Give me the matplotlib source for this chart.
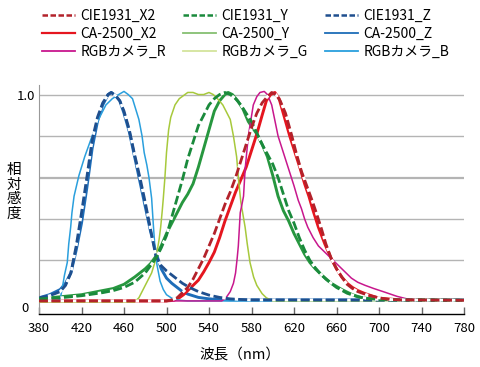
import matplotlib.pyplot as plt
from matplotlib.lines import Line2D

plt.rcParams['font.family'] = ['Noto Sans CJK JP', 'DejaVu Sans']

# CIE1931 colour matching functions (normalised)
cie_x_nm = [380, 500, 505, 510, 515, 520, 525, 530, 535, 540, 545, 550, 555, 560, 565, 570,
            575, 580, 585, 590, 595, 599, 603, 607, 612, 618, 622, 627, 632, 637, 641, 646,
            650, 655, 660, 665, 670, 675, 680, 690, 700, 710, 720, 780]
cie_x_val = [0.005, 0.005, 0.01, 0.02, 0.045, 0.07, 0.11, 0.16, 0.21, 0.27, 0.33, 0.40, 0.47,
             0.53, 0.60, 0.68, 0.76, 0.84, 0.91, 0.96, 0.99, 1.01, 1.0, 0.97, 0.91, 0.80, 0.72,
             0.63, 0.56, 0.49, 0.43, 0.35, 0.28, 0.21, 0.16, 0.12, 0.085, 0.065, 0.05, 0.032,
             0.02, 0.012, 0.01, 0.008]

cie_y_nm = [380, 400, 420, 440, 450, 460, 470, 480, 490, 495, 500, 505, 510, 515, 520, 525,
            530, 535, 540, 545, 550, 555, 560, 565, 570, 575, 580, 590, 600, 605, 610, 615,
            620, 625, 630, 635, 640, 645, 650, 655, 660, 670, 680, 690, 700, 720, 780]
cie_y_val = [0.015, 0.02, 0.03, 0.045, 0.055, 0.07, 0.095, 0.14, 0.21, 0.26, 0.32, 0.41, 0.50,
             0.59, 0.69, 0.77, 0.85, 0.90, 0.95, 0.98, 1.0, 1.01, 1.0, 0.98, 0.95, 0.91, 0.87,
             0.76, 0.665, 0.60, 0.52, 0.44, 0.38, 0.31, 0.25, 0.20, 0.165, 0.135, 0.11, 0.09,
             0.07, 0.042, 0.025, 0.016, 0.012, 0.01, 0.008]

cie_z_nm = [380, 390, 400, 405, 410, 415, 420, 425, 430, 435, 440, 445, 448, 452, 456, 460,
            465, 470, 475, 480, 485, 490, 495, 500, 505, 510, 515, 520, 525, 530, 540, 550,
            560, 570, 580, 780]
cie_z_val = [0.02, 0.03, 0.05, 0.08, 0.14, 0.27, 0.43, 0.60, 0.78, 0.89, 0.96, 1.0, 1.01,
             0.995, 0.97, 0.92, 0.83, 0.71, 0.60, 0.48, 0.35, 0.22, 0.175, 0.15, 0.13, 0.11,
             0.09, 0.075, 0.062, 0.05, 0.033, 0.022, 0.015, 0.012, 0.01, 0.008]

# CA-2500 spectral responses
ca_x_nm = [380, 500, 507, 512, 516, 520, 525, 530, 535, 540, 545, 550, 555, 560, 565, 570,
           575, 580, 585, 590, 594, 598, 602, 606, 611, 616, 621, 626, 630, 634, 638, 643,
           649, 655, 660, 665, 670, 675, 680, 687, 700, 720, 780]
ca_x_val = [0.005, 0.005, 0.008, 0.02, 0.035, 0.055, 0.08, 0.105, 0.145, 0.19, 0.24, 0.31,
            0.39, 0.46, 0.53, 0.59, 0.65, 0.73, 0.81, 0.90, 0.97, 1.0, 1.01, 0.98, 0.89, 0.80,
            0.72, 0.64, 0.57, 0.51, 0.44, 0.36, 0.28, 0.21, 0.16, 0.12, 0.09, 0.07, 0.055,
            0.04, 0.018, 0.01, 0.008]

ca_y_nm = [380, 400, 420, 440, 450, 460, 470, 480, 485, 490, 495, 500, 505, 510, 515, 520,
           525, 530, 535, 540, 545, 550, 555, 558, 562, 567, 572, 577, 585, 590, 595, 600,
           605, 610, 615, 620, 625, 630, 635, 640, 646, 655, 665, 675, 684, 700, 740, 780]
ca_y_val = [0.015, 0.025, 0.035, 0.055, 0.065, 0.085, 0.12, 0.16, 0.185, 0.22, 0.27, 0.33,
            0.38, 0.43, 0.48, 0.52, 0.57, 0.65, 0.74, 0.83, 0.92, 0.97, 1.0, 1.01, 1.0, 0.97,
            0.93, 0.87, 0.81, 0.76, 0.70, 0.61, 0.51, 0.44, 0.39, 0.33, 0.28, 0.23, 0.19,
            0.16, 0.13, 0.09, 0.06, 0.035, 0.02, 0.012, 0.01, 0.008]

ca_z_nm = [380, 390, 400, 405, 410, 415, 420, 425, 430, 435, 440, 445, 448, 452, 456, 460,
           465, 470, 475, 480, 485, 490, 495, 500, 505, 510, 515, 520, 530, 540, 560, 780]
ca_z_val = [0.02, 0.035, 0.06, 0.09, 0.14, 0.25, 0.38, 0.55, 0.74, 0.87, 0.95, 1.0, 1.01,
            0.995, 0.97, 0.91, 0.82, 0.70, 0.58, 0.46, 0.34, 0.24, 0.16, 0.115, 0.09, 0.07,
            0.05, 0.038, 0.022, 0.015, 0.01, 0.01]

# RGB camera sensitivities
cam_r_nm = [380, 552, 556, 560, 563, 565, 566.5, 567.6, 568.5, 569.4, 571, 572.5, 574, 577,
            581.7, 585, 588, 592, 595, 599, 605, 610, 615, 620, 624, 627, 630, 633, 638, 643,
            649, 655, 660, 665, 670, 674, 680, 687, 695, 705, 717, 727, 740, 780]
cam_r_val = [0.005, 0.005, 0.02, 0.05, 0.09, 0.14, 0.21, 0.27, 0.35, 0.43, 0.47, 0.51, 0.64,
             0.80, 0.95, 0.99, 1.01, 1.015, 1.0, 0.95, 0.80, 0.72, 0.64, 0.56, 0.49, 0.45,
             0.40, 0.36, 0.31, 0.27, 0.24, 0.21, 0.185, 0.16, 0.135, 0.115, 0.095, 0.08,
             0.065, 0.048, 0.027, 0.014, 0.01, 0.008]

cam_g_nm = [380, 470, 474, 477, 481, 484, 486, 489, 491, 493, 494.5, 496, 497, 498.5, 500,
            502, 504, 508, 512, 516, 520, 525, 530, 535, 540, 544, 548, 553, 557, 560, 563,
            566, 568, 570, 572, 574, 576, 578.6, 582, 585, 590, 594, 600, 780]
cam_g_val = [0.0, 0.0, 0.02, 0.05, 0.09, 0.12, 0.14, 0.19, 0.24, 0.30, 0.36, 0.44, 0.50,
             0.60, 0.72, 0.83, 0.89, 0.95, 0.98, 0.995, 1.01, 1.01, 1.0, 1.0, 1.01, 1.0, 0.98,
             0.95, 0.91, 0.88, 0.80, 0.70, 0.58, 0.48, 0.42, 0.36, 0.28, 0.19, 0.12, 0.08,
             0.04, 0.02, 0.005, 0.005]

cam_b_nm = [380, 398, 400, 402, 404, 406.6, 408, 409.8, 411, 413, 417.6, 423, 430, 436, 443,
            449, 455, 460, 464, 468, 471, 474, 477, 479, 481.5, 483.5, 486, 487.5, 489, 491,
            494, 497, 500, 505, 510, 520, 780]
cam_b_val = [0.005, 0.008, 0.015, 0.07, 0.13, 0.19, 0.28, 0.36, 0.43, 0.51, 0.61, 0.70, 0.80,
             0.88, 0.95, 0.98, 1.0, 1.015, 1.0, 0.98, 0.93, 0.88, 0.80, 0.72, 0.66, 0.60,
             0.50, 0.38, 0.27, 0.18, 0.10, 0.06, 0.035, 0.018, 0.01, 0.005, 0.005]

x_ticks = list(range(380, 781, 40))

C_CIE_X = '#b3222b'
C_CIE_Y = '#1a8a3c'
C_CIE_Z = '#1f4f8e'
C_CA_X = '#e5161f'
C_CA_Y = '#27973f'
C_CA_Z = '#1e6db8'
C_R = '#c8178d'
C_G = '#a7c93c'
C_B = '#2a9fdd'

fig = plt.figure(figsize=(4.8, 3.67), dpi=100)
ax = fig.add_axes([39 / 480, 53 / 367, 425 / 480, 229 / 367])

# grid
for g in [0.2, 0.4, 0.6, 0.8, 1.0]:
    ax.axhline(g, color='#b4b4b4', lw=1.6 if g == 0.6 else 1.0, zorder=0)

# CA-2500 (solid, thick)
ax.plot(ca_z_nm, ca_z_val, color=C_CA_Z, lw=2.1, zorder=2)
ax.plot(ca_y_nm, ca_y_val, color=C_CA_Y, lw=2.1, zorder=2)
ax.plot(ca_x_nm, ca_x_val, color=C_CA_X, lw=2.1, zorder=2)

# RGB camera (thin)
ax.plot(cam_b_nm, cam_b_val, color=C_B, lw=1.1, zorder=3)
ax.plot(cam_g_nm, cam_g_val, color=C_G, lw=1.1, zorder=3)
ax.plot(cam_r_nm, cam_r_val, color=C_R, lw=1.1, zorder=3)

# CIE1931 (dashed with white gaps)
dash = dict(lw=2.0, linestyle=(0, (3.2, 1.3)), gapcolor='white', zorder=4)
ax.plot(cie_z_nm, cie_z_val, color=C_CIE_Z, **dash)
ax.plot(cie_y_nm, cie_y_val, color=C_CIE_Y, **dash)
ax.plot(cie_x_nm, cie_x_val, color=C_CIE_X, **dash)

ax.set_xlim(380, 780)
ax.set_ylim(-0.058, 1.046)
ax.set_xticks(x_ticks)
ax.tick_params(axis='x', direction='in', length=5, width=1, color='#666666',
               labelsize=9.5, pad=6)
ax.set_yticks([1.0])
ax.set_yticklabels(['1.0'])
ax.tick_params(axis='y', length=0, labelsize=9.5, pad=3)
ax.text(-0.025, -0.03, '0', transform=ax.get_yaxis_transform(), ha='right', va='center',
        fontsize=9.5)

for s in ['top', 'right']:
    ax.spines[s].set_visible(False)
ax.spines['left'].set_color('#999999')
ax.spines['left'].set_linewidth(0.8)
ax.spines['bottom'].set_color('black')
ax.spines['bottom'].set_linewidth(1.0)

fig.text(14 / 480, 1 - 192 / 367, '相\n対\n感\n度', ha='center', va='center',
         fontsize=10.5, linespacing=1.05)
fig.text(240 / 480, 1 - 355 / 367, '波長（nm）', ha='center', va='center', fontsize=10.5)

# legend (column-wise order for ncol=3)
def dh(c):
    return Line2D([], [], color=c, lw=1.8, linestyle=(0, (2.2, 1.0)))

def sh(c, lw=1.3):
    return Line2D([], [], color=c, lw=lw)

handles = [dh(C_CIE_X), sh(C_CA_X, 1.6), sh(C_R),
           dh(C_CIE_Y), sh('#86bf72'), sh('#d3e49c'),
           dh(C_CIE_Z), sh(C_CA_Z), sh(C_B)]
labels = ['CIE1931_X2', 'CA-2500_X2', 'RGBカメラ_R',
          'CIE1931_Y', 'CA-2500_Y', 'RGBカメラ_G',
          'CIE1931_Z', 'CA-2500_Z', 'RGBカメラ_B']
fig.legend(handles, labels, ncol=3, loc='upper left', bbox_to_anchor=(32 / 480, 1 + 1 / 367),
           frameon=False, fontsize=10, handlelength=2.4, handletextpad=0.4,
           columnspacing=1.2, labelspacing=0.3, borderpad=0.2)

fig.savefig('out.png', dpi=100)
